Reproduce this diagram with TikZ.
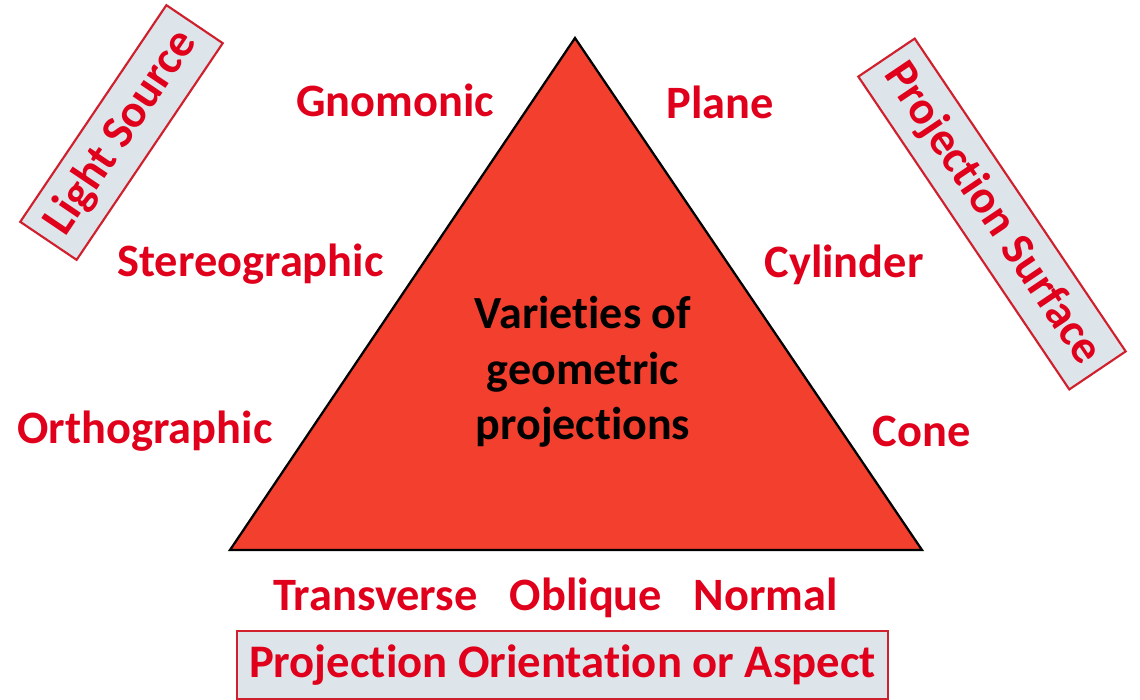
\documentclass[tikz,border=0pt]{standalone}
\usepackage{fontspec}
\setmainfont{Carlito}[Ligatures={NoCommon}]
\definecolor{lblred}{HTML}{E0001B}
\definecolor{trired}{HTML}{F23F2E}
\definecolor{boxfill}{HTML}{DDE5EA}
\definecolor{boxline}{HTML}{D0202E}
\tikzset{
  lbl/.style={text=lblred, font=\fontsize{34.8}{38}\selectfont\bfseries, inner sep=0pt, anchor=base},
  catbox/.style={draw=boxline, line width=1.6pt, fill=boxfill, text=lblred, font=\fontsize{35}{38}\selectfont\bfseries, inner xsep=6pt, inner ysep=4pt, minimum height=51pt},
  ctext/.style={text=black, font=\fontsize{34.5}{41.5}\selectfont\bfseries, align=center}
}
\begin{document}
\begin{tikzpicture}[x=0.75pt,y=-0.75pt]
\useasboundingbox (0,0) rectangle (1140,700);
\coordinate (apex) at (575,38);
\coordinate (bl) at (230,550);
\coordinate (br) at (922,550);
\draw[fill=trired, draw=black, line width=1.7pt, line join=miter] (apex) -- (bl) -- (br) -- cycle;
\node[ctext] (center) at (583,372) {Varieties of\\geometric\\projections};
\node[lbl] (gno) at (395,116) {Gnomonic};
\node[lbl] (pla) at (720,118) {Plane};
\node[lbl] (ste) at (250.5,276) {Stereographic};
\node[lbl] (cyl) at (844,277) {Cylinder};
\node[lbl] (ort) at (145,443) {Orthographic};
\node[lbl] (con) at (921.5,446) {Cone};
\node[lbl] (tra) at (375.5,610) {Transverse};
\node[lbl] (obl) at (586,610) {Oblique};
\node[lbl] (nor) at (766,610) {Normal};
\node[catbox, rotate=56, minimum width=196pt] (ls) at (121.5,132.5) {Light Source};
\node[catbox, rotate=-56, minimum width=283pt] (ps) at (992,214) {Projection Surface};
\node[catbox, minimum width=488pt] (poa) at (562.5,665) {Projection Orientation or Aspect};
\end{tikzpicture}
\end{document}
